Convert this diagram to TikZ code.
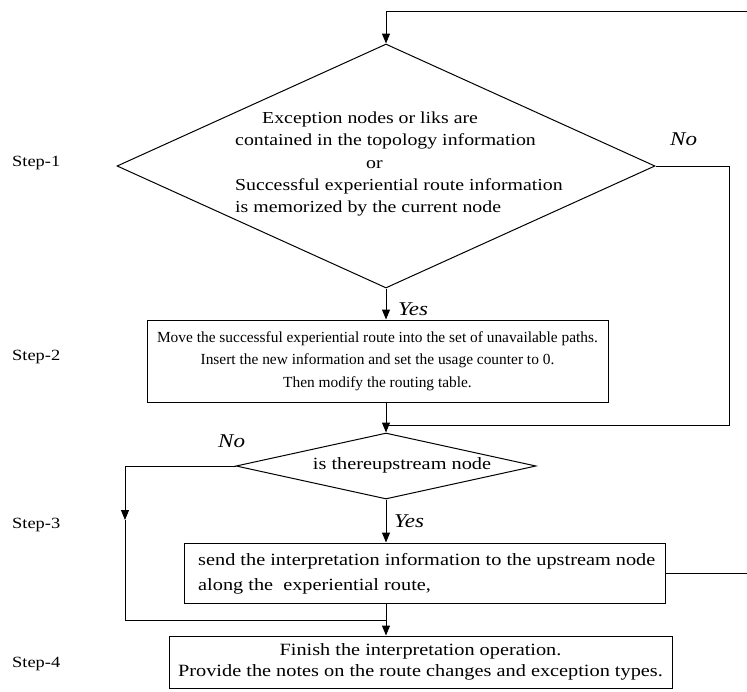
\documentclass[tikz,border=0pt]{standalone}
\usepackage{fontspec}
\setmainfont[FakeStretch=1.18]{Liberation Serif}
\newfontfamily\plainserif{Liberation Serif}
\usetikzlibrary{shapes.geometric,arrows.meta}

\begin{document}
\begin{tikzpicture}[x=1pt,y=-1pt]
\tikzstyle{every node}+=[inner sep=0pt]
\tikzstyle{line}=[black,line width=1pt]
\tikzstyle{arr}=[line,-{Triangle[length=10pt,width=8pt]}]
\tikzstyle{box}=[draw,line,rectangle]
\tikzstyle{cond}=[draw,line,diamond]
\tikzstyle{steplabel}=[anchor=west,font=\fontsize{15.6}{18}\selectfont]
\tikzstyle{answer}=[anchor=base west,font=\fontsize{19.5}{22}\selectfont\itshape]
\useasboundingbox (0,0) rectangle (747,691);
\node [steplabel] (s1) at (12,163) {Step-1};
\node [steplabel] (s2) at (12,357) {Step-2};
\node [steplabel] (s3) at (12,525) {Step-3};
\node [steplabel] (s4) at (12,664) {Step-4};
\node [cond,minimum width=538,minimum height=244] (d1) at (386,166) {};
\node [anchor=west,align=left,font=\fontsize{16.8}{22.2}\selectfont] (d1text) at (235,164)
  {\hspace*{27pt}Exception nodes or liks are\\contained in the topology information\\\hspace*{131pt}or\\Successful experiential route information\\is memorized by the current node};
\node [box,minimum width=461,minimum height=82,align=center,font=\plainserif\fontsize{15.4}{22.5}\selectfont] (b2) at (377.5,361)
  {Move the successful experiential route into the set of unavailable paths.\\Insert the new information and set the usage counter to 0.\\Then modify the routing table.};
\node [cond,minimum width=300,minimum height=66] (d2) at (386,466) {};
\node [font=\fontsize{17.2}{20}\selectfont] (d2text) at (402,465) {is thereupstream node};
\node [box,minimum width=481,minimum height=60] (b3) at (424.5,573) {};
\node [anchor=west,align=left,font=\fontsize{17.2}{25}\selectfont] (b3text) at (198,574)
  {send the interpretation information to the upstream node\\along the\ \ experiential route,};
\node [box,minimum width=503,minimum height=52,align=center,font=\fontsize{17.2}{21}\selectfont] (b4) at (420.5,662)
  {Finish the interpretation operation.\\Provide the notes on the route changes and exception types.};
\node [answer] (no1) at (670,145) {No};
\node [answer] (yes1) at (398,315) {Yes};
\node [answer] (no2) at (218,447) {No};
\node [answer] (yes2) at (394,527) {Yes};
\coordinate (tr) at (747,11);
\coordinate (nr) at (729,425);
\coordinate (j1) at (386,425);
\coordinate (lm) at (125,520);
\coordinate (j2) at (386,620);
\draw [arr] (tr) -| (d1.north);
\draw [arr] (d1.south) -- (d1.south |- b2.north);
\draw [line] (d1.east) -| (nr) -- (j1);
\draw [arr] (b2.south -| d1.south) -- (d2.north);
\draw [arr] (d2.south) -- (d2.south |- b3.north);
\draw [arr] (d2.west) -| (lm);
\draw [line] (lm) |- (j2);
\draw [line] (b3.south -| d2.south) -- (j2);
\draw [arr] (j2) -- (j2 |- b4.north);
\draw [line] (b3.east) -- (b3.east -| tr);
\end{tikzpicture}
\end{document}
